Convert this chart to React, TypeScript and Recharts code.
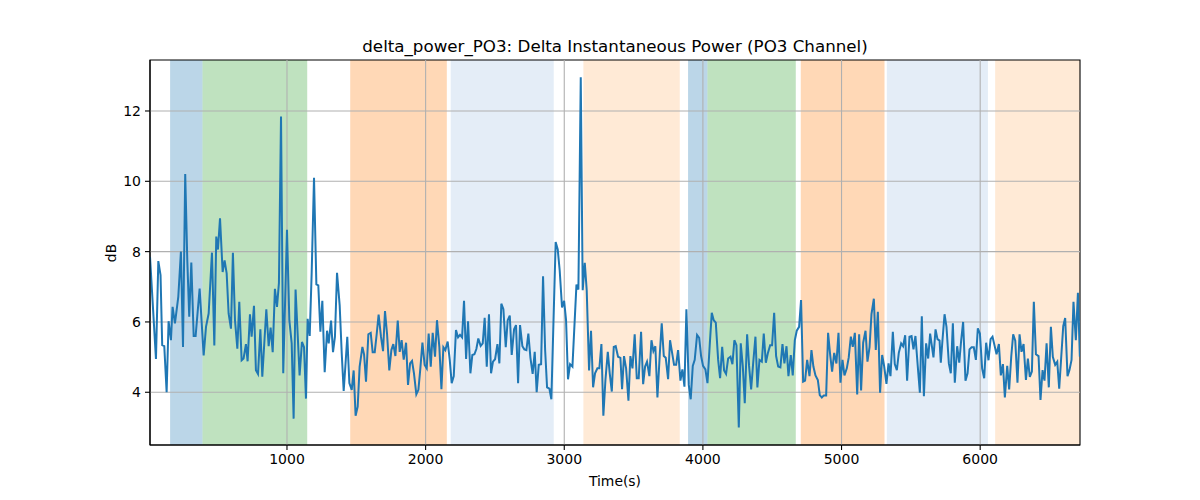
import React from 'react';
import { LineChart, Line, XAxis, YAxis, ReferenceArea, ReferenceLine } from 'recharts';

const times = [
  12, 55, 72, 88, 100, 115, 132, 146, 163, 175, 192, 216, 235, 250, 266, 281, 295, 310, 327, 341,
  370, 399, 416, 435, 459, 476, 490, 502, 517, 536, 550, 565, 579, 596, 610, 625, 642, 656, 673, 687,
  704, 716, 733, 745, 762, 776, 791, 808, 822, 851, 868, 882, 897, 913, 928, 942, 957, 973, 1000, 1017,
  1034, 1048, 1062, 1091, 1108, 1123, 1137,
  1149, 1164, 1178, 1195, 1212, 1226, 1241, 1255, 1272, 1289, 1301, 1318, 1332, 1346, 1361, 1380, 1395, 1409,
  1421, 1435, 1450, 1467, 1481, 1495, 1510, 1524, 1544, 1556, 1570, 1587, 1604, 1618, 1633, 1647, 1661, 1678,
  1693, 1707, 1722, 1738, 1753, 1767, 1782, 1799, 1813, 1827, 1842, 1859, 1873, 1888, 1902, 1916, 1933, 1948,
  1962, 1977, 1993, 2008, 2022, 2037, 2051, 2068, 2082, 2099, 2114, 2128, 2142, 2159, 2174, 2188, 2203, 2219,
  2234, 2248, 2263, 2277,
  2292, 2306, 2323, 2337, 2352, 2366, 2380, 2397, 2412, 2426, 2441, 2457, 2472, 2486, 2501, 2518, 2532, 2546,
  2561, 2578, 2592, 2607, 2621, 2638, 2652, 2667, 2681, 2698, 2712, 2727, 2741, 2756, 2772, 2787, 2801, 2816,
  2833, 2847, 2862, 2876, 2893, 2907, 2938, 2953, 2967, 2984, 2999, 3013, 3027, 3042, 3059, 3073, 3088, 3102,
  3119, 3133, 3148, 3162, 3179, 3193, 3208, 3222, 3239, 3253, 3268, 3282, 3297, 3314, 3328, 3343, 3357, 3371, 3388,
  3405, 3417, 3431, 3446, 3463, 3477, 3492, 3508, 3523, 3537, 3554, 3569, 3583, 3597, 3614, 3629, 3643, 3657,
  3672, 3689, 3703, 3718, 3732, 3749, 3763, 3778, 3792, 3807, 3821, 3838, 3852, 3867, 3881, 3898, 3912, 3927,
  3941, 3958, 3973, 3987, 4001, 4018, 4033, 4050, 4064, 4078, 4093, 4110, 4124, 4139, 4153, 4167, 4182, 4199,
  4213, 4227, 4242, 4259, 4273, 4288, 4302, 4319, 4333, 4348, 4362, 4379, 4393, 4408, 4425, 4439, 4454, 4468,
  4485, 4499, 4514,
  4528, 4543, 4559, 4574, 4588, 4603, 4617, 4634, 4648, 4663, 4677, 4694, 4708, 4723, 4737, 4752, 4769, 4783,
  4797, 4812, 4829, 4843, 4858, 4872, 4889, 4903, 4918, 4932, 4947, 4963, 4978, 4992, 5007, 5021, 5038, 5052,
  5067, 5081, 5096, 5113, 5127, 5141, 5156, 5173, 5187, 5202, 5216, 5233, 5247, 5262, 5278, 5293, 5307, 5324,
  5339, 5353, 5370, 5384, 5399, 5413, 5430, 5444, 5459, 5473, 5490, 5505, 5519, 5533, 5550, 5565, 5579, 5594,
  5610, 5625, 5639,
  5663, 5678, 5692, 5707, 5716, 5728, 5743, 5757, 5774, 5788, 5803, 5817, 5834, 5849, 5863, 5877, 5894, 5909,
  5923, 5938, 5954, 5969, 5983, 5998, 6014, 6029, 6043, 6060, 6075, 6089, 6103, 6118, 6135, 6149, 6164, 6178,
  6195, 6209, 6224, 6238, 6253, 6269, 6284, 6298, 6313, 6330, 6344, 6358, 6373, 6387, 6402, 6421, 6435, 6450,
  6464, 6479, 6495, 6510, 6524, 6541, 6556, 6570, 6584, 6599, 6613, 6630, 6644, 6659, 6673, 6690, 6705, 6719,
];

const values = [
  7.85, 4.95, 7.73, 7.33, 5.34, 5.31, 4.0, 6.02, 5.48, 6.43, 5.96, 6.71, 8.0, 5.29, 10.21, 7.75, 6.15, 7.69, 5.6, 5.6,
  6.95, 5.05, 5.86, 6.24, 7.97, 5.33, 8.43, 8.06, 8.95, 7.42, 7.75, 7.38, 6.24, 5.81, 7.97, 6.05, 5.24, 6.57, 4.91, 4.96,
  5.37, 4.88, 6.22, 5.58, 6.46, 4.63, 4.52, 5.79, 4.44, 6.36, 5.31, 5.84, 5.14, 6.94, 6.43, 7.11, 11.84, 4.54, 8.62, 6.05,
  5.39, 3.25, 6.92, 4.48, 5.43, 5.28, 3.82,
  6.09, 5.6, 7.38, 10.1, 7.07, 7.04, 5.72, 6.6, 4.57, 5.75, 5.39, 6.04, 5.14, 5.58, 7.4, 6.48, 5.1, 4.04,
  4.73, 5.58, 4.26, 4.07, 4.62, 3.33, 3.59, 4.73, 5.29, 5.08, 4.3, 5.65, 5.69, 5.14, 5.14, 5.65, 6.21, 5.58,
  5.17, 6.31, 5.65, 4.62, 5.2, 5.37, 5.03, 6.04, 5.15, 5.48, 4.93, 5.41, 4.21, 4.82, 4.89, 4.54, 3.94, 4.07,
  4.68, 5.41, 4.78, 4.68, 5.67, 4.73, 5.69, 5.01, 6.05, 5.29, 4.09, 5.28, 5.2, 5.44, 4.92, 4.26, 4.46, 5.77,
  5.56, 5.63, 5.56, 6.6,
  4.95, 6.02, 4.54, 5.06, 5.08, 5.23, 5.53, 5.32, 5.39, 6.12, 4.73, 6.22, 4.54, 4.87, 4.94, 5.37, 4.82, 6.52,
  6.36, 5.28, 6.05, 6.18, 5.06, 5.79, 5.91, 4.26, 5.91, 5.31, 5.22, 5.2, 5.67, 4.98, 4.52, 5.15, 4.0, 4.78,
  4.8, 7.3, 5.2, 4.14, 4.1, 3.8, 8.27, 8.06, 7.47, 6.41, 6.6, 6.05, 4.37, 4.8, 4.73, 5.86, 7.06, 6.92,
  12.96, 6.9, 7.68, 6.9, 4.62, 5.75, 4.14, 4.54, 4.68, 4.68, 5.37, 3.33, 4.35, 5.15, 4.54, 4.02, 5.29, 5.31, 5.01,
  4.98, 4.09, 5.03, 4.68, 3.76, 5.03, 4.68, 5.65, 4.4, 4.4, 5.72, 4.23, 4.73, 4.87, 4.46, 5.48, 5.17, 5.31,
  3.85, 5.08, 5.96, 5.03, 4.98, 4.37, 5.48, 5.12, 4.78, 4.78, 5.2, 4.33, 4.65, 4.16, 6.36, 4.21, 3.8, 4.75,
  4.92, 5.63, 5.55, 5.03, 4.75, 4.65, 4.26, 5.39, 6.26, 6.05, 5.98, 4.92, 4.4, 5.29, 4.62, 4.52, 4.96, 5.01,
  4.8, 5.48, 5.34, 3.0, 5.39, 4.73, 3.69, 5.65, 4.75, 4.08, 4.8, 5.58, 4.14, 4.92, 4.87, 5.67, 4.84, 5.1,
  5.34, 5.34, 6.26,
  5.03, 4.73, 4.71, 5.37, 4.82, 5.31, 4.46, 5.06, 4.48, 5.48, 5.75, 5.86, 6.62, 4.3, 4.33, 4.92, 4.46, 5.2,
  4.73, 4.48, 4.35, 3.92, 3.85, 3.91, 3.91, 5.69, 5.06, 4.59, 5.12, 4.82, 5.69, 4.27, 4.92, 4.48, 4.68, 4.99,
  5.58, 5.29, 5.69, 3.94, 5.65, 4.05, 5.41, 5.75, 4.87, 5.28, 6.22, 6.66, 5.2, 6.29, 3.99, 5.06, 4.75, 4.24,
  4.82, 4.46, 5.72, 4.8, 4.63, 5.12, 5.39, 5.31, 5.62, 4.33, 5.58, 5.6, 5.22, 5.6, 4.73, 3.99, 6.16, 3.89,
  5.39, 4.96, 5.67,
  4.99, 5.79, 5.51, 5.47, 4.84, 5.48, 6.22, 5.86, 4.82, 4.54, 5.96, 4.27, 5.31, 4.84, 5.48, 6.0, 4.33, 4.54,
  5.22, 5.28, 5.28, 4.92, 5.82, 5.67, 4.68, 4.4, 5.41, 4.91, 5.51, 5.58, 5.34, 5.08, 5.37, 4.48, 4.8, 3.85,
  4.75, 4.08, 5.01, 5.65, 5.47, 4.27, 5.65, 5.15, 5.37, 4.35, 4.96, 4.44, 4.59, 6.57, 5.08, 5.03, 3.78, 4.63,
  4.33, 5.39, 4.14, 5.86, 5.01, 4.78, 4.87, 4.1, 4.96, 5.88, 6.11, 4.46, 4.63, 4.92, 6.57, 5.48, 6.83, 5.01,
];

const spanStarts = [157, 391, 1456, 2181, 3138, 3893, 4033, 4706, 5327, 6108];
const spanEnds = [391, 1146, 2153, 2924, 3833, 4033, 4670, 5310, 6056, 6720];
const spanKinds = ['blue', 'green', 'orange', 'lightblue', 'lightorange', 'blue', 'green', 'orange', 'lightblue', 'lightorange'];

const xTicks = [1000, 2000, 3000, 4000, 5000, 6000];
const yTicks = [4, 6, 8, 10, 12];
const xDomain = [12, 6720];
const yDomain = [2.5, 13.45];

const spanColors: Record<string, { fill: string; opacity: number }> = {
  blue: { fill: '#1f77b4', opacity: 0.3 },
  green: { fill: '#2ca02c', opacity: 0.3 },
  orange: { fill: '#ff7f0e', opacity: 0.3 },
  lightblue: { fill: '#aec7e8', opacity: 0.33 },
  lightorange: { fill: '#ffbb78', opacity: 0.3 },
};

const data = times.map((t, i) => ({ t, v: values[i] }));

const FONT = 'DejaVu Sans, sans-serif';

export default function App() {
  return (
    <div style={{ position: 'absolute', left: 0, top: 0, width: 1200, height: 500, background: '#fff', fontFamily: FONT }}>
      <LineChart
        width={1200}
        height={500}
        data={data}
        margin={{ top: 60, right: 120, bottom: 25, left: 90 }}
      >
        <XAxis
          dataKey="t"
          type="number"
          domain={xDomain}
          ticks={xTicks}
          allowDataOverflow
          height={30}
          tickSize={5}
          tickMargin={4}
          stroke="#000"
          tick={{ fill: '#000', fontSize: 14, fontFamily: FONT }}
          tickLine={{ stroke: '#000', strokeWidth: 1.1 }}
          axisLine={{ stroke: '#000', strokeWidth: 1.1 }}
        />
        <YAxis
          type="number"
          domain={yDomain}
          ticks={yTicks}
          allowDataOverflow
          width={60}
          tickSize={5}
          tickMargin={4}
          stroke="#000"
          tick={{ fill: '#000', fontSize: 14, fontFamily: FONT }}
          tickLine={{ stroke: '#000', strokeWidth: 1.1 }}
          axisLine={{ stroke: '#000', strokeWidth: 1.1 }}
        />
        {spanStarts.map((s, i) => (
          <ReferenceArea
            key={'span' + i}
            x1={s}
            x2={spanEnds[i]}
            y1={yDomain[0]}
            y2={yDomain[1]}
            fill={spanColors[spanKinds[i]].fill}
            fillOpacity={spanColors[spanKinds[i]].opacity}
            stroke="none"
            ifOverflow="hidden"
          />
        ))}
        {xTicks.map((x) => (
          <ReferenceLine key={'gx' + x} x={x} stroke="#b0b0b0" strokeWidth={1.1} />
        ))}
        {yTicks.map((y) => (
          <ReferenceLine key={'gy' + y} y={y} stroke="#b0b0b0" strokeWidth={1.1} />
        ))}
        <Line
          type="linear"
          dataKey="v"
          stroke="#1f77b4"
          strokeWidth={2}
          dot={false}
          isAnimationActive={false}
        />
        <ReferenceArea
          x1={xDomain[0]}
          x2={xDomain[1]}
          y1={yDomain[0]}
          y2={yDomain[1]}
          fill="none"
          stroke="#000"
          strokeWidth={1.1}
          ifOverflow="visible"
        />
      </LineChart>
      <div style={{ position: 'absolute', left: 150, width: 930, top: 35, textAlign: 'center', fontSize: 16.7, lineHeight: '22px', color: '#000' }}>
        delta_power_PO3: Delta Instantaneous Power (PO3 Channel)
      </div>
      <div style={{ position: 'absolute', left: 150, width: 930, top: 471, textAlign: 'center', fontSize: 13.9, lineHeight: '20px', color: '#000' }}>
        Time(s)
      </div>
      <div style={{ position: 'absolute', left: 61, top: 243, width: 100, textAlign: 'center', fontSize: 13.9, lineHeight: '20px', color: '#000', transform: 'rotate(-90deg)' }}>
        dB
      </div>
    </div>
  );
}
